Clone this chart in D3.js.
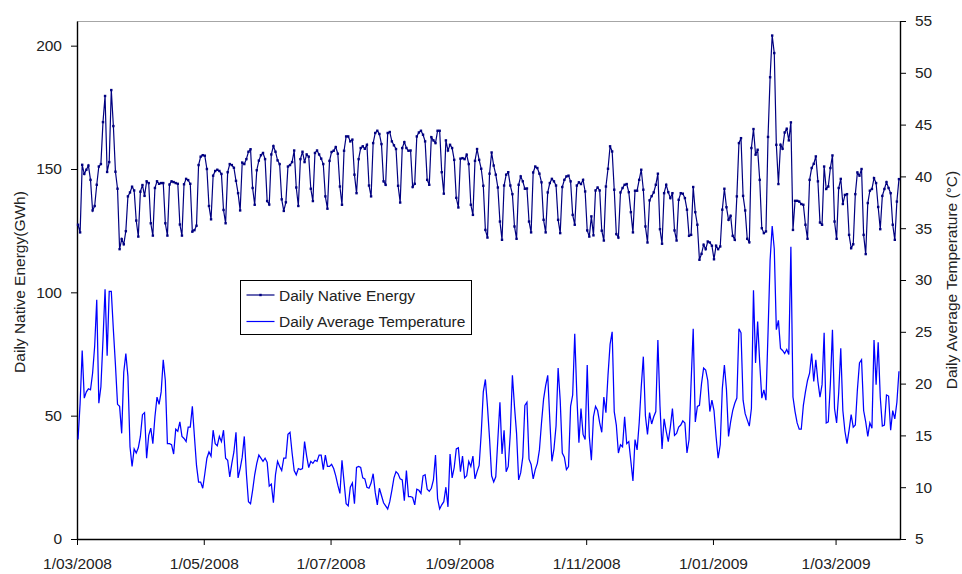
<!DOCTYPE html>
<html>
<head>
<meta charset="utf-8">
<script src="https://cdn.jsdelivr.net/npm/d3@7"></script>
<style>
  body { margin: 0; background: #fff; }
  svg { display: block; font-family: "Liberation Sans", Arial, sans-serif; }
</style>
</head>
<body>
<div id="chart"></div>
<script>
// daily series, one value per day starting 1 March 2008 (rows = weeks, Sat..Fri)
const startDate = "2008-03-01"

const energy = [
  127.4,124.3,151.7,148,149.7,151.4,145.6,
  133.2,135,143.6,151,152,169,179.6,
  148.8,152.8,182,167.4,148.9,142,117.5,
  121.6,119.5,124.8,138.9,140.5,142.8,141.3,
  129.1,122.6,140.8,143.5,139.1,145,144.3,
  128,123,142.3,145,144,144.3,144.3,
  128,123,143.7,145,144.7,144.3,144,
  127.5,123,143.8,146,145.5,144,124.6,
  125.2,127,151.6,155,155.6,155.4,150,
  135,129.6,147.3,149.2,149.7,149.2,148,
  133.4,128,148.7,152,151.6,150.5,145.2,
  140.2,133.2,152.6,152,154,157,158,
  142.3,135.5,149.5,153.4,155.6,156.5,154,
  137,135.6,155.9,159.3,157,153.5,152,
  137.7,133,136.5,151,151.6,152.8,157.5,
  142.5,135,154,157,152.8,155.9,155,
  142,137,156.5,157.5,155.9,154.2,152,
  138.9,133.9,153.3,156.9,157.4,158.9,156.2,
  142.9,135.5,157.4,163.2,163.2,161.2,161.9,
  147.7,140.2,154,158.5,159.2,158.2,159.8,
  143.3,138.9,160.5,164.6,165.5,164.2,160.1,
  145,143.6,164.6,165,161.2,159.6,158.1,
  143.2,136.4,158.5,160.9,158.5,157.4,157.5,
  142.7,144,163.2,164.8,165.5,163.9,161.2,
  145.6,143.6,162.9,161.6,160.5,165.5,165.5,
  148.7,140,161.6,157.5,159.8,158.5,153.7,
  138.3,134.4,154.2,154.4,154,155.8,152,
  135.5,131.4,153.3,158.1,153.7,150.1,143.2,
  125.3,122.2,148.1,156.7,151.4,147.7,142.5,
  128.7,121.3,143.3,147.7,148.7,143.3,139.8,
  126.7,121.7,143.6,147,145,142,142.1,
  128.7,124.3,148.6,151,150.4,148.1,144.6,
  129.4,124.3,140.5,144.3,146,145,143.3,
  129.4,124,142.7,145.6,147,147.3,145,
  131.4,127.4,143.3,144.6,143.9,145.6,140.9,
  125.1,122.6,130.8,123.1,141.3,142.5,141.3,
  125,121,142.9,150.1,159.2,157.1,141.6,
  123.6,122.2,140.5,142.3,143.6,143.9,140.6,
  132.5,124.3,141.2,141.2,145.6,149.7,141.6,
  126.7,120.2,137.3,139,140.5,143.6,148.1,
  125.6,119.7,140.2,143.6,140.6,138.2,140.2,
  125.1,121,137.5,140.2,140,138.2,133.5,
  122.9,123.3,142.7,132.5,127.4,113.2,115.6,
  119.3,117.5,120.6,120.2,118.9,113.4,118.9,
  117.5,118.6,133.5,142,134.5,129.4,131,
  122.9,121.3,138.9,160.5,162.5,139.1,133.2,
  121.7,120.3,158.5,166.2,155.8,157.8,145.6,
  126,124,124.7,163,187.2,204.1,197,
  159.8,143.9,159.8,158.2,164.8,166.3,161.6,
  168.9,125.3,137.1,137.1,136.8,135.8,135.5,
  127.4,121.7,145.6,150.4,152.1,155.1,145,
  128.3,127.4,151,141.9,142.9,150.4,155.5,
  128.7,121.7,142.3,146,135.8,139.5,139.8,
  123.3,117.9,119.5,139.8,148.6,147.3,150,
  123.3,115.5,136.2,141.2,141.9,146.3,144.3,
  134.6,125.6,139.1,141.9,144.7,142.3,140.2,
  127.4,121.3,136.8,145.9
]

const temperature = [
  14.6,18.1,23.2,18.6,19.2,19.5,19.4,
  21.0,23.6,28.1,18.1,19.7,24.2,29.1,
  22.7,28.9,28.9,25.2,21.8,18.0,17.8,
  15.2,21.1,22.9,20.7,13.9,12.0,13.7,
  13.3,13.8,14.9,17.0,17.2,12.8,15.0,
  15.7,14.2,16.8,18.7,18.0,19.2,22.3,
  20.3,14.2,14.2,14.1,13.2,15.6,15.4,
  16.3,14.9,14.7,14.4,15.8,15.8,17.8,
  14.9,12.1,10.5,10.5,9.9,11.3,12.8,
  13.4,13.0,15.5,14.2,14.0,14.9,14.4,
  15.5,12.8,12.6,11.0,12.3,13.4,15.3,
  10.9,11.8,12.9,14.9,11.3,8.6,8.4,
  9.7,11.2,12.3,13.1,12.8,12.5,12.8,
  12.4,10.1,10.3,8.5,11.2,12.5,12.0,
  11.6,12.8,12.8,15.1,15.3,13.3,11.6,
  11.2,11.8,11.7,11.8,14.4,13.0,11.9,
  12.5,12.3,12.6,12.5,13.1,13.1,11.7,
  13.1,12.0,12.0,12.2,11.8,11.1,10.2,
  9.4,12.6,10.5,8.4,8.2,10.0,10.4,
  8.4,11.9,12.0,11.9,10.9,10.8,10.0,
  9.9,10.4,11.3,9.5,8.3,9.9,9.2,
  8.5,8.2,7.9,8.6,9.7,10.9,11.5,
  11.3,10.8,10.7,8.7,11.6,9.1,9.1,
  9.0,8.3,9.8,9.7,9.4,11.1,11.2,
  9.8,9.6,9.9,10.7,13.1,8.9,7.9,
  8.3,8.6,10.0,8.1,13.2,10.9,11.9,
  13.7,13.8,11.5,13.0,10.9,11.1,12.5,
  12.0,13.0,10.8,11.5,12.1,15.2,19.2,
  20.4,17.8,14.7,11.1,10.5,11.0,14.6,
  18.2,13.2,15.5,11.5,12.0,15.2,20.8,
  17.8,15.2,10.7,11.4,12.9,17.9,18.2,
  12.7,12.2,10.8,11.7,12.3,13.6,16.2,
  18.5,19.8,20.8,16.5,12.5,13.7,15.9,
  21.5,18.4,13.3,12.9,11.7,12.0,17.8,
  18.9,24.8,18.9,14.3,17.6,15.1,14.6,
  21.8,14.9,12.6,16.8,17.8,17.4,16.2,
  15.3,18.7,17.2,20.8,23.8,25.0,17.3,
  16.0,13.3,14.1,13.9,16.8,14.2,14.4,
  12.5,10.6,14.6,13.6,16.2,19.7,22.6,
  16.9,15.1,17.2,16.1,16.8,17.3,24.2,
  17.9,13.7,16.6,15.4,14.4,15.8,17.6,
  15.0,15.2,15.8,16.0,16.4,16.2,13.3,
  14.6,20.2,25.3,16.3,17.8,17.9,20.0,
  21.5,21.3,20.3,17.3,18.4,17.4,14.9,
  12.8,14.1,19.5,21.8,19.4,14.9,16.3,
  17.4,18.1,18.6,25.3,24.9,18.4,17.1,
  16.5,15.9,17.6,29.0,22.0,26.0,22.0,
  18.6,19.4,18.4,24.9,31.9,35.2,33.0,
  25.2,26.1,23.4,23.2,22.9,23.3,22.8,
  33.2,18.7,17.3,16.2,15.6,15.6,17.9,
  19.2,20.3,21.0,22.9,20.2,22.3,20.2,
  18.7,19.9,24.9,16.2,16.3,20.0,25.2,
  17.6,16.2,19.1,23.4,17.4,15.4,14.2,
  15.5,17.0,15.8,16.0,19.4,22.0,22.3,
  17.4,16.3,14.9,16.2,15.7,24.2,19.9,
  24.0,18.7,15.9,16.0,18.9,18.8,15.5,
  17.4,16.6,18.2,21.2
]

const xTicks = ["2008-03-01","2008-05-01","2008-07-01","2008-09-01","2008-11-01","2009-01-01","2009-03-01"]
const energyTicks = [0, 50, 100, 150, 200]
const tempTicks = [5, 10, 15, 20, 25, 30, 35, 40, 45, 50, 55]

const seriesNames = ["Daily Native Energy", "Daily Average Temperature"]
const leftTitle = "Daily Native Energy(GWh)"
const rightTitle = "Daily Average Temperature (°C)"

let width = 962, height = 574
let margin = {top: 21, right: 62, bottom: 35, left: 77}
let fontSize = 15.5

const parse = d3.utcParse("%Y-%m-%d")
const t0 = parse(startDate)
const days = energy.map((v, i) => d3.utcHour.offset(d3.utcDay.offset(t0, i), 12))

const svg = d3.select("#chart").append("svg")
  .attr("width", width)
  .attr("height", height)

let x = d3.scaleUtc()
  .domain([t0, d3.utcDay.offset(t0, energy.length)])
  .range([margin.left, width - margin.right])

let yL = d3.scaleLinear().domain([0, 210]).range([height - margin.bottom, margin.top])
let yR = d3.scaleLinear().domain([5, 55]).range([height - margin.bottom, margin.top])

// top frame line
svg.append("line")
  .attr("x1", margin.left).attr("x2", width - margin.right)
  .attr("y1", margin.top + 0.5).attr("y2", margin.top + 0.5)
  .attr("stroke", "#a6a6a6").attr("stroke-width", 1.2)

function styleAxis(g) {
  g.selectAll("text").attr("font-size", fontSize).attr("fill", "#222")
  g.selectAll("line").attr("stroke", "#000")
  g.select(".domain").attr("stroke", "#000").attr("stroke-width", 1.4)
}

svg.append("g")
  .attr("transform", "translate(" + margin.left + ",0)")
  .call(d3.axisLeft(yL).tickValues(energyTicks).tickSize(6).tickSizeOuter(0).tickPadding(9))
  .call(styleAxis)

svg.append("g")
  .attr("transform", "translate(" + (width - margin.right) + ",0)")
  .call(d3.axisRight(yR).tickValues(tempTicks).tickSize(6).tickSizeOuter(0).tickPadding(9))
  .call(styleAxis)

svg.append("g")
  .attr("transform", "translate(0," + (height - margin.bottom) + ")")
  .call(d3.axisBottom(x).tickValues(xTicks.map(parse))
    .tickFormat(d3.utcFormat("%-d/%m/%Y")).tickSize(6).tickSizeOuter(0).tickPadding(13))
  .call(styleAxis)

svg.selectAll(".domain").attr("fill", "none")

// temperature (right axis)
svg.append("path")
  .datum(temperature)
  .attr("fill", "none")
  .attr("stroke", "#0000ff")
  .attr("stroke-width", 1.25)
  .attr("d", d3.line().x((d, i) => x(days[i])).y(d => yR(d)))

// energy (left axis) with markers
svg.append("path")
  .datum(energy)
  .attr("fill", "none")
  .attr("stroke", "#000080")
  .attr("stroke-width", 1.2)
  .attr("d", d3.line().x((d, i) => x(days[i])).y(d => yL(d)))

svg.append("g").selectAll("rect")
  .data(energy)
  .enter().append("rect")
  .attr("x", (d, i) => x(days[i]) - 1.2)
  .attr("y", d => yL(d) - 1.2)
  .attr("width", 2.4).attr("height", 2.4)
  .attr("fill", "#000080")

// axis titles
svg.append("text")
  .attr("transform", "translate(19," + ((margin.top + height - margin.bottom) / 2 + 2) + ") rotate(-90)")
  .attr("text-anchor", "middle").attr("dominant-baseline", "central")
  .attr("font-size", fontSize).attr("fill", "#222")
  .text(leftTitle)

svg.append("text")
  .attr("transform", "translate(951," + ((margin.top + height - margin.bottom) / 2) + ") rotate(-90)")
  .attr("text-anchor", "middle").attr("dominant-baseline", "central")
  .attr("font-size", fontSize).attr("fill", "#222")
  .text(rightTitle)

// legend
const legend = svg.append("g").attr("transform", "translate(240.5,280.5)")
legend.append("rect")
  .attr("width", 231).attr("height", 54)
  .attr("fill", "#fff").attr("stroke", "#000").attr("stroke-width", 1)

const colors = ["#000080", "#0000ff"]
seriesNames.forEach(function(name, i) {
  let ly = 14.5 + i * 26.5
  legend.append("line")
    .attr("x1", 6).attr("x2", 34).attr("y1", ly).attr("y2", ly)
    .attr("stroke", colors[i]).attr("stroke-width", 1.2)
  if (i === 0) {
    legend.append("rect")
      .attr("x", 18.8).attr("y", ly - 1.2).attr("width", 2.4).attr("height", 2.4)
      .attr("fill", colors[i])
  }
  legend.append("text")
    .attr("x", 38.5).attr("y", ly)
    .attr("dominant-baseline", "central")
    .attr("font-size", fontSize).attr("fill", "#222")
    .text(name)
})
</script>
</body>
</html>
